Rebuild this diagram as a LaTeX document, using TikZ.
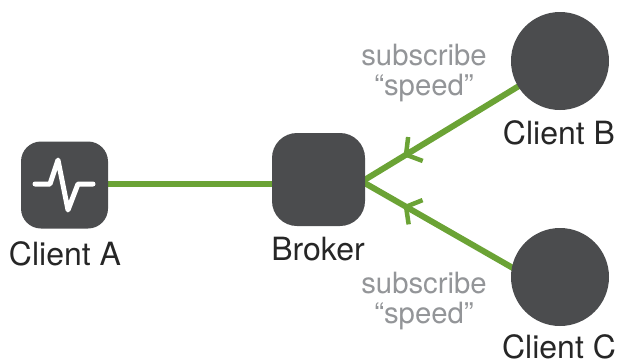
\documentclass[tikz,border=0pt]{standalone}
\usepackage{fontspec}
\setmainfont{TeX Gyre Heros}
\usetikzlibrary{arrows.meta, decorations.markings}
\definecolor{boxgray}{HTML}{4B4C4E}
\definecolor{linkgreen}{HTML}{6BA335}
\definecolor{notegray}{HTML}{939598}
\tikzstyle{client}=[fill=boxgray,inner sep=0pt]
\tikzstyle{square client}=[client,rectangle,rounded corners=20pt,minimum size=87pt]
\tikzstyle{round client}=[client,circle,minimum size=98pt]
\tikzstyle{client label}=[font=\fontsize{32}{36}\selectfont,text=black!85,inner sep=0pt]
\tikzstyle{note}=[font=\fontsize{29.3}{30}\selectfont,text=notegray,align=center]
\tikzstyle{link}=[draw=linkgreen,line width=6pt]
\tikzstyle{barb}=[postaction={decorate},decoration={markings,mark=at position 0.79 with {\arrow[linkgreen,line width=4.5pt]{Straight Barb[length=11pt,width=28pt]}}}]

\begin{document}
\begin{tikzpicture}[x=1pt,y=-1pt]
		\useasboundingbox (0,0) rectangle (618,362);
		% Draw the connectors first, the clients go on top
		\coordinate (Fork) at (362,181.5);
		\coordinate (Left) at (64.5,184);
		\coordinate (B-end) at (560,61);
		\coordinate (C-end) at (560,295);
		\draw[link] (Left) -- (Fork |- Left);
		\foreach \name in {B,C}
		\draw[link, barb] (\name-end) -- (Fork);
		% Draw the clients and the broker
		\node[square client] (A) at (64.5,185) {};
		\node[square client, rounded corners=25pt, minimum size=93pt] (Broker) at (318.5,179.5) {};
		\node[round client] (B) at (560,61) {};
		\node[round client] (C) at (560,277) {};
		% Pulse icon on client A
		\draw[white, line width=5pt, line cap=round, line join=round] (35,184) -- (50,184) -- (58,160) -- (68,210) -- (78,184) -- (93,184);
		% Labels
		\node[client label] (A-label) at (65,254) {Client A};
		\node[client label] (Broker-label) at (318,249) {Broker};
		\node[client label] (B-label) at (559,132.5) {Client B};
		\node[client label] (C-label) at (559,346.5) {Client C};
		\node[note] (B-note) at (424,73.5) {subscribe\\“speed”};
		\node[note] (C-note) at (424,301.5) {subscribe\\“speed”};
	\end{tikzpicture}
\end{document}
